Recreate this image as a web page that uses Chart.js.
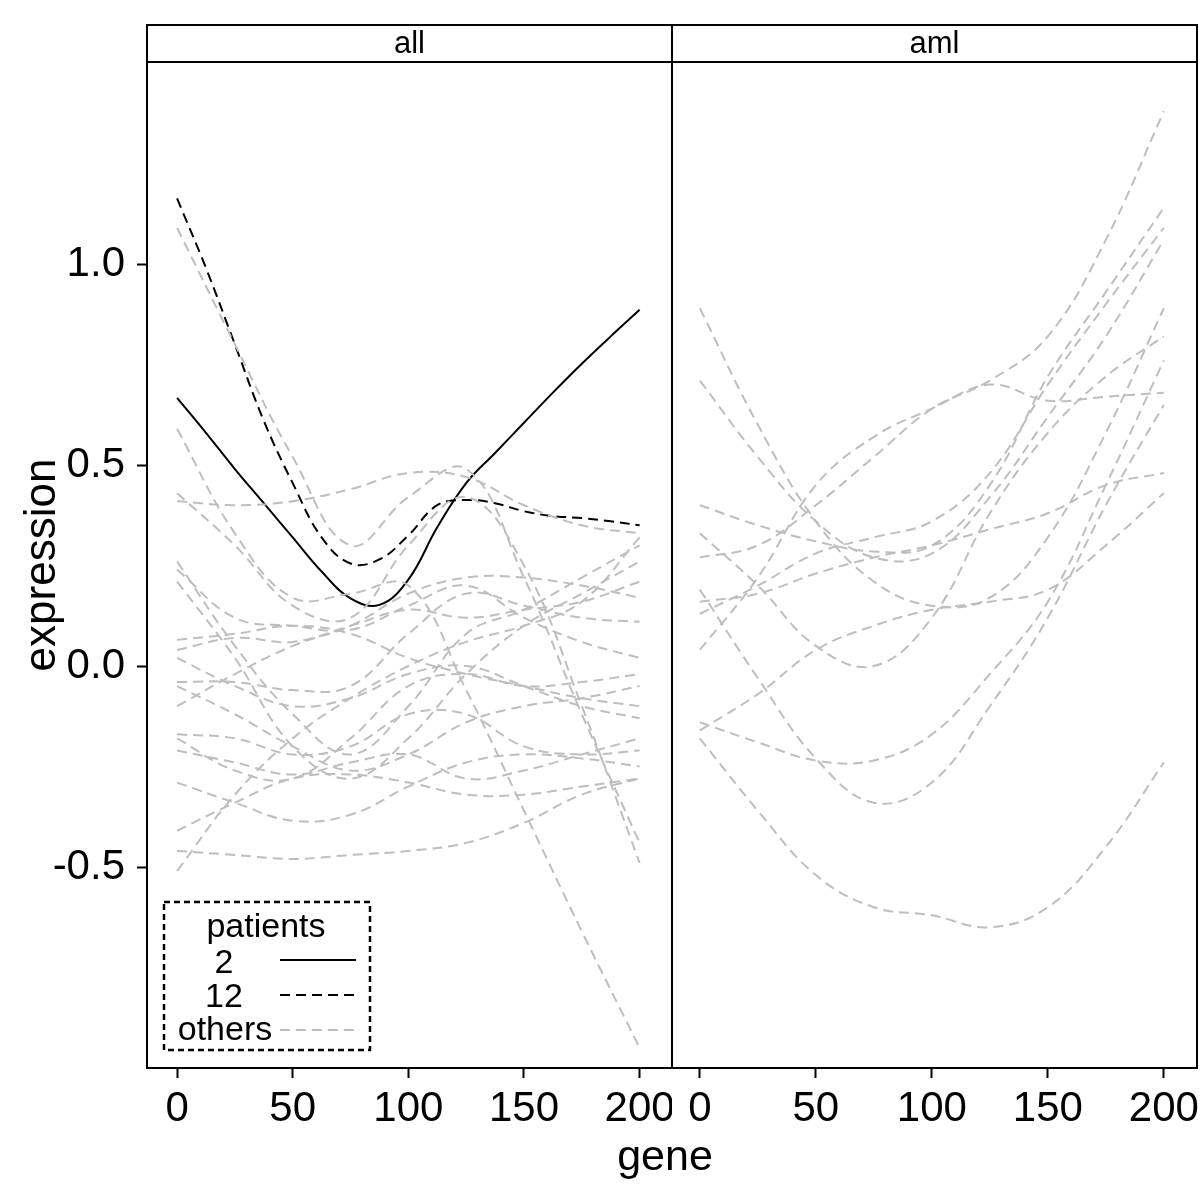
<!DOCTYPE html>
<html><head><meta charset="utf-8">
<script src="https://cdn.jsdelivr.net/npm/chart.js@4/dist/chart.umd.min.js"></script>
<style>
body{margin:0;background:#fff}
#wrap{position:relative;width:1200px;height:1200px;background:#fff;font-family:"Liberation Sans",Arial,sans-serif}
#c1{position:absolute;left:0;top:0}
#c2{position:absolute;left:672px;top:0}
#xlab{position:absolute;left:0;width:1330px;top:1130px;text-align:center;font-size:43px;line-height:50px;color:#000}
</style></head><body>
<div id="wrap">
<canvas id="c1" width="672" height="1200"></canvas>
<canvas id="c2" width="528" height="1200"></canvas>
<div id="xlab">gene</div>
</div>
<script>
// ---- data ----
const panels = ["all", "aml"];
const genes = [0, 25, 50, 75, 100, 125, 150, 175, 200];
const genesFine = [0, 12.5, 25, 37.5, 50, 62.5, 75, 87.5, 100, 112.5, 125, 137.5, 150, 162.5, 175, 187.5, 200];
const xTicks = [0, 50, 100, 150, 200];
const yTicks = [-0.5, 0.0, 0.5, 1.0];
const patient2 = [0.667, 0.58, 0.49, 0.405, 0.32, 0.235, 0.168, 0.152, 0.215, 0.345, 0.455, 0.53, 0.605, 0.68, 0.752, 0.82, 0.886];
const patient12 = [1.163, 0.99, 0.80, 0.61, 0.455, 0.32, 0.255, 0.265, 0.325, 0.40, 0.413, 0.405, 0.385, 0.373, 0.368, 0.36, 0.35];
const allOthers = [
  [1.09, 0.80, 0.52, 0.30, 0.42, 0.49, 0.22, -0.12, -0.44],
  [0.59, 0.33, 0.17, 0.18, 0.20, -0.06, -0.36, -0.66, -0.95],
  [0.43, 0.30, 0.15, 0.12, 0.30, 0.42, 0.25, -0.10, -0.49],
  [0.41, 0.40, 0.41, 0.44, 0.48, 0.47, 0.40, 0.35, 0.33],
  [0.26, 0.05, -0.12, -0.22, -0.10, 0.08, 0.14, 0.22, 0.30],
  [0.24, 0.12, 0.10, 0.09, 0.15, 0.20, 0.12, 0.06, 0.02],
  [0.21, 0.02, -0.20, -0.28, -0.18, -0.02, 0.10, 0.18, 0.26],
  [0.065, 0.08, 0.10, 0.08, 0.02, -0.02, -0.05, -0.08, -0.10],
  [0.04, 0.07, 0.06, 0.10, 0.14, 0.12, 0.14, 0.16, 0.21],
  [0.02, -0.05, -0.10, -0.08, -0.02, 0.00, -0.05, -0.10, -0.13],
  [-0.04, -0.04, -0.06, -0.05, 0.08, 0.18, 0.15, 0.12, 0.11],
  [-0.05, -0.12, -0.20, -0.26, -0.22, -0.14, -0.10, -0.08, -0.05],
  [-0.10, -0.02, 0.05, 0.10, 0.18, 0.22, 0.22, 0.20, 0.17],
  [-0.17, -0.18, -0.22, -0.20, -0.12, -0.12, -0.20, -0.22, -0.21],
  [-0.18, -0.26, -0.28, -0.18, -0.05, -0.02, -0.05, -0.04, -0.02],
  [-0.21, -0.24, -0.27, -0.24, -0.22, -0.28, -0.26, -0.22, -0.18],
  [-0.29, -0.34, -0.385, -0.37, -0.30, -0.24, -0.22, -0.23, -0.25],
  [-0.41, -0.34, -0.28, -0.27, -0.29, -0.32, -0.32, -0.30, -0.28],
  [-0.46, -0.47, -0.48, -0.47, -0.46, -0.44, -0.39, -0.32, -0.28],
  [-0.51, -0.32, -0.18, -0.08, 0.00, 0.06, 0.10, 0.16, 0.32]
];
const amlOthers = [
  [0.89, 0.60, 0.36, 0.21, 0.15, 0.17, 0.32, 0.58, 0.89],
  [0.71, 0.52, 0.36, 0.27, 0.28, 0.42, 0.62, 0.82, 1.06],
  [0.40, 0.35, 0.31, 0.285, 0.30, 0.45, 0.72, 0.93, 1.14],
  [0.33, 0.20, 0.05, 0.00, 0.12, 0.38, 0.58, 0.72, 0.82],
  [0.27, 0.30, 0.40, 0.52, 0.64, 0.71, 0.82, 1.06, 1.38],
  [0.04, 0.22, 0.45, 0.57, 0.64, 0.70, 0.66, 0.67, 0.68],
  [0.19, -0.03, -0.23, -0.34, -0.29, -0.10, 0.12, 0.40, 0.65],
  [-0.14, -0.19, -0.235, -0.235, -0.17, -0.02, 0.16, 0.45, 0.76],
  [-0.16, -0.07, 0.04, 0.10, 0.14, 0.16, 0.19, 0.30, 0.43],
  [0.16, 0.18, 0.23, 0.27, 0.30, 0.34, 0.38, 0.45, 0.48],
  [0.13, 0.20, 0.28, 0.32, 0.36, 0.48, 0.70, 0.90, 1.09],
  [-0.18, -0.36, -0.52, -0.60, -0.62, -0.65, -0.60, -0.45, -0.24]
];
const legendLabels = ["2", "12", "others"];
const legendTitle = "patients";
const xLimits = [[-13, 214], [-12, 214.3]];
const yLimits = [-1.0, 1.5025];

// ---- styles ----
const GRAY = "#bebebe";
const FONT = '"Liberation Sans", Arial, sans-serif';

function pts(xs, ys) { return ys.map((v, i) => ({x: xs[i], y: v})); }
function grayDs(arr) {
  return arr.map(ys => ({data: pts(genes, ys), borderColor: GRAY, borderWidth: 2, borderDash: [10, 6],
    pointRadius: 0, tension: 0.4, fill: false}));
}

const framePlugin = {
  id: "frame",
  afterDraw(chart, args, opts) {
    const {ctx, chartArea: a} = chart;
    ctx.save();
    ctx.strokeStyle = "#000"; ctx.lineWidth = 2; ctx.setLineDash([]);
    ctx.strokeRect(a.left, a.top, a.right - a.left, a.bottom - a.top);
    // strip
    ctx.strokeRect(a.left, 25, a.right - a.left, a.top - 25);
    ctx.fillStyle = "#000"; ctx.font = "31px " + FONT;
    ctx.textAlign = "center"; ctx.textBaseline = "middle";
    ctx.fillText(opts.label, (a.left + a.right) / 2, 44);
    if (opts.legend) {
      ctx.setLineDash([6, 4]); ctx.lineWidth = 2.5;
      ctx.strokeRect(164, 902, 206, 148);
      ctx.setLineDash([]);
      ctx.font = "34px " + FONT; ctx.textBaseline = "alphabetic";
      ctx.fillText(legendTitle, 266, 937);
      ctx.fillText(legendLabels[0], 224, 973);
      ctx.fillText(legendLabels[1], 224, 1007);
      ctx.fillText(legendLabels[2], 225, 1040);
      ctx.lineWidth = 2;
      const styles = [[[], "#000"], [[10, 6], "#000"], [[10, 6], GRAY]];
      [960, 995, 1030].forEach((y, i) => {
        ctx.setLineDash(styles[i][0]); ctx.strokeStyle = styles[i][1];
        ctx.beginPath(); ctx.moveTo(280, y); ctx.lineTo(356, y); ctx.stroke();
      });
    }
    ctx.restore();
  }
};

function makeChart(id, idx, datasets, showY) {
  return new Chart(document.getElementById(id), {
    type: "line",
    data: {datasets},
    plugins: [framePlugin],
    options: {
      responsive: false, animation: false, events: [],
      layout: {padding: {top: 62, right: showY ? 0 : 3, left: 0, bottom: 0}},
      plugins: {legend: {display: false}, tooltip: {enabled: false},
        frame: {label: panels[idx], legend: showY}},
      scales: {
        x: {type: "linear", min: xLimits[idx][0], max: xLimits[idx][1],
          afterBuildTicks: s => { s.ticks = xTicks.map(v => ({value: v})); },
          afterFit: s => { s.height = 132; s.paddingLeft = 0; s.paddingRight = 0; },
          grid: {display: true, drawOnChartArea: false, drawTicks: true, tickLength: 10, tickColor: "#000", tickWidth: 2},
          border: {display: false},
          ticks: {color: "#000", font: {size: 42, family: FONT}, padding: 6, maxRotation: 0, callback: v => String(v)}},
        y: {type: "linear", display: showY, min: yLimits[0], max: yLimits[1],
          afterBuildTicks: s => { s.ticks = yTicks.map(v => ({value: v})); },
          afterFit: s => { s.width = showY ? 147 : 0; s.paddingTop = 0; s.paddingBottom = 0; },
          grid: {display: true, drawOnChartArea: false, drawTicks: true, tickLength: 10, tickColor: "#000", tickWidth: 2},
          border: {display: false},
          title: {display: true, text: "expression", color: "#000", font: {size: 44, family: FONT}, padding: {top: 16, bottom: 0}},
          ticks: {color: "#000", font: {size: 42, family: FONT}, padding: 12, callback: v => Number(v).toFixed(1)}}
      }
    }
  });
}

const leftSets = grayDs(allOthers).concat([
  {data: pts(genesFine, patient12), borderColor: "#000", borderWidth: 2, borderDash: [10, 6], pointRadius: 0, tension: 0.4},
  {data: pts(genesFine, patient2), borderColor: "#000", borderWidth: 2, pointRadius: 0, tension: 0.4}
]);
makeChart("c1", 0, leftSets, true);
makeChart("c2", 1, grayDs(amlOthers), false);
</script>
</body></html>
